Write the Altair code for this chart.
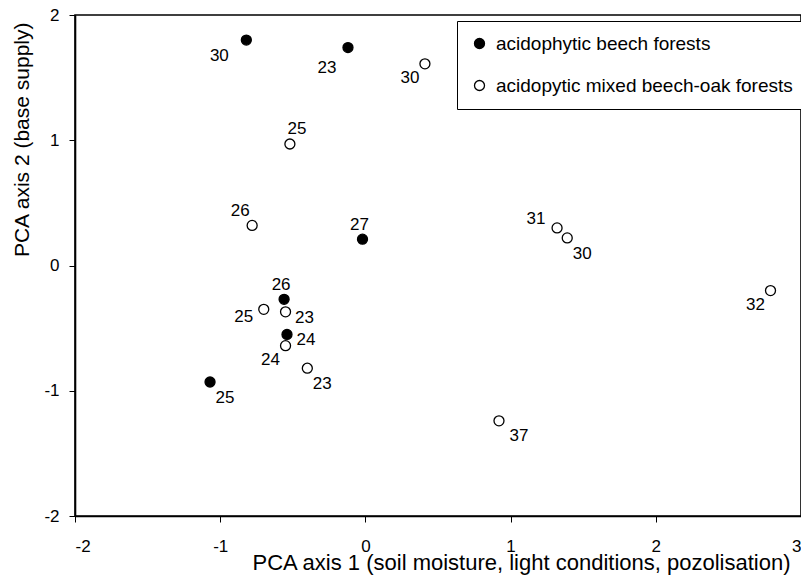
import altair as alt
import pandas as pd

# ---- data ----
pc1 = [-0.82, -0.12, -0.02, -0.56, -0.54, -1.07,
       0.41, -0.52, -0.78, -0.70, -0.55, -0.55, -0.40, 1.32, 1.39, 2.79, 0.92]
pc2 = [1.80, 1.74, 0.21, -0.27, -0.55, -0.93,
       1.61, 0.97, 0.32, -0.35, -0.37, -0.64, -0.82, 0.30, 0.22, -0.20, -1.24]
group = ["acidophytic beech forests"] * 6 + ["acidopytic mixed beech-oak forests"] * 11
label = ["30", "23", "27", "26", "24", "25",
         "30", "25", "26", "25", "23", "24", "23", "31", "30", "32", "37"]
label_side = ["sw1", "sw2", "n", "n", "e", "se",
              "sw3", "ne", "nw", "w", "e", "sw3", "se", "nw2", "se", "sw3", "se2"]

groups_order = ["acidophytic beech forests", "acidopytic mixed beech-oak forests"]
x_ticks = [-2, -1, 0, 1, 2, 3]
y_ticks = [-2, -1, 0, 1, 2]

# label placement (pixels) for each side code
side_offsets = {
    "sw1": (-27, 16), "sw2": (-21, 20), "sw3": (-15, 14), "n": (-3, -14),
    "e": (19, 6), "se": (15, 16), "se2": (20, 15), "ne": (7, -15),
    "nw": (-12, -14), "nw2": (-21, -9), "w": (-20, 8),
}

df = pd.DataFrame({"pc1": pc1, "pc2": pc2, "group": group,
                   "label": label, "side": label_side})

FONT = "Liberation Sans"

xenc = alt.X("pc1:Q",
             scale=alt.Scale(domain=[-2, 3], nice=False, zero=False),
             axis=alt.Axis(values=x_ticks, labelExpr="'' + datum.value",
                           title="PCA axis 1 (soil moisture, light conditions, pozolisation)",
                           grid=False, tickSize=6, labelPadding=16,
                           titleFontSize=22, titleBaseline="alphabetic",
                           titleX=715, titleY=53, titleAlign="right", titleAnchor="end"))
yenc = alt.Y("pc2:Q",
             scale=alt.Scale(domain=[-2, 2], nice=False, zero=False),
             axis=alt.Axis(values=y_ticks, labelExpr="'' + datum.value",
                           title="PCA axis 2 (base supply)",
                           grid=False, tickSize=6, labelPadding=10, titlePadding=11,
                           titleFontSize=21,
                           titleY=7, titleAlign="right", titleAnchor="end"))

points = alt.Chart(df).mark_point(
    filled=True, stroke="black", strokeWidth=1.3, size=100, shape="circle", opacity=1
).encode(
    x=xenc, y=yenc,
    fill=alt.Fill("group:N",
                  scale=alt.Scale(domain=groups_order, range=["black", "white"]),
                  legend=alt.Legend(title=None, orient="none", legendX=382, legendY=6,
                                    padding=13, rowPadding=22, symbolSize=100,
                                    symbolStrokeColor="black", symbolStrokeWidth=1.3,
                                    labelFontSize=19, labelFont=FONT, labelColor="black",
                                    labelOffset=7, labelLimit=1000,
                                    strokeColor="black", fillColor="white",
                                    symbolType="circle")),
)

text_layers = []
for code, (dx, dy) in side_offsets.items():
    text_layers.append(
        alt.Chart(df).transform_filter(alt.datum.side == code)
        .mark_text(dx=dx, dy=dy, fontSize=17, font=FONT, color="black")
        .encode(x="pc1:Q", y="pc2:Q", text="label:N")
    )

chart = alt.layer(points, *text_layers).properties(
    width=726, height=501,
    autosize=alt.AutoSizeParams(type="none"),
    padding={"left": 67, "top": 7, "right": 0, "bottom": 60},
).configure_view(
    stroke="black", strokeWidth=1.6
).configure_axis(
    domainColor="black", domainWidth=1.6, tickColor="black", tickWidth=1,
    labelFont=FONT, labelFontSize=17, labelColor="black",
    titleFont=FONT, titleFontWeight="normal", titleColor="black",
)

chart.save("out.html", embed_options={"renderer": "svg", "actions": False})
